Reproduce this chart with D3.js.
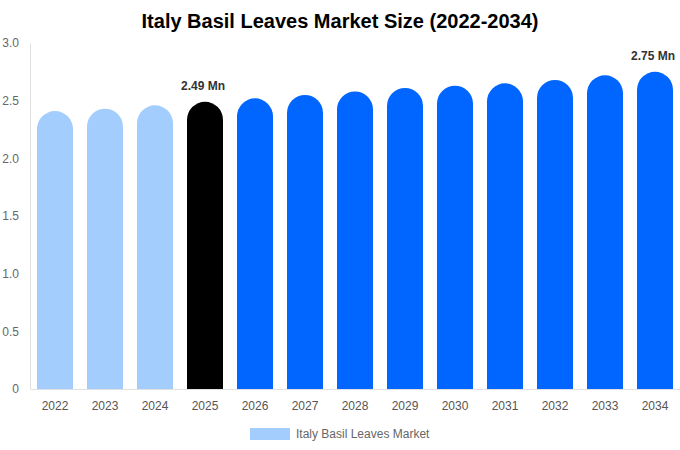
<!DOCTYPE html>
<html lang="en">
  <head>
    <meta charset="utf-8">
    <title>Italy Basil Leaves Market Size</title>
    <script src="https://cdnjs.cloudflare.com/ajax/libs/d3/7.8.5/d3.min.js"></script>
    <style>
      body { margin: 0; background: #fff; }
      svg { font-family: "Liberation Sans", Arial, sans-serif; }
    </style>
  </head>
  <body>
    <script>
      // Chart data
      const years = ["2022", "2023", "2024", "2025", "2026", "2027", "2028",
                     "2029", "2030", "2031", "2032", "2033", "2034"];
      const values = [2.41, 2.43, 2.46, 2.49, 2.52, 2.55, 2.58,
                      2.61, 2.63, 2.65, 2.68, 2.72, 2.75];
      const yTicks = [0, 0.5, 1.0, 1.5, 2.0, 2.5, 3.0];
      const labelled = { "2025": "2.49 Mn", "2034": "2.75 Mn" };
      const seriesName = "Italy Basil Leaves Market";

      const w = 680, h = 450;
      const padLeft = 30, padRight = 680, padTop = 43, padBottom = 389;

      const colorFor = y => +y < 2025 ? "#a3cdfd" : (+y === 2025 ? "#000000" : "#0066ff");

      const svg = d3.select("body").append("svg")
        .attr("width", w).attr("height", h);

      const x = d3.scaleBand().domain(years).range([padLeft, padRight]).paddingInner(0.28).paddingOuter(0.14);
      const y = d3.scaleLinear().domain([0, 3]).range([padBottom, padTop]);

      // title
      svg.append("text")
        .attr("x", w / 2).attr("y", 28)
        .attr("text-anchor", "middle")
        .style("font-size", "20px").style("font-weight", "bold").style("fill", "#000")
        .text("Italy Basil Leaves Market Size (2022-2034)");

      // y axis
      const yAxis = d3.axisLeft(y).tickValues(yTicks)
        .tickFormat(d => d === 0 ? "0" : d3.format(".1f")(d)).tickSize(0).tickPadding(11);
      const gy = svg.append("g").attr("transform", `translate(${padLeft},0)`).call(yAxis);
      gy.select(".domain").attr("stroke", "#e0e0e0");
      gy.selectAll("text").style("font-size", "12px").style("fill", "#666");

      // x axis
      const xAxis = d3.axisBottom(x).tickSize(0).tickPadding(12);
      const gx = svg.append("g").attr("transform", `translate(0,${padBottom})`).call(xAxis);
      gx.select(".domain").attr("stroke", "#e0e0e0");
      gx.selectAll("text").style("font-size", "12px").style("fill", "#555");

      // bars with rounded tops
      const bw = x.bandwidth(), r = bw / 2;
      svg.selectAll("path.bar")
        .data(years.map((yr, i) => ({ yr, v: values[i] })))
        .enter().append("path")
        .attr("class", "bar")
        .attr("fill", d => colorFor(d.yr))
        .attr("d", d => {
          const x0 = x(d.yr), yt = y(d.v), yb = y(0);
          return `M${x0},${yb} L${x0},${yt + r} A${r},${r} 0 0 1 ${x0 + bw},${yt + r} L${x0 + bw},${yb} Z`;
        });

      // value labels
      svg.selectAll("text.val")
        .data(years.filter(yr => labelled[yr]))
        .enter().append("text")
        .attr("class", "val")
        .attr("x", yr => x(yr) + bw / 2 - 2)
        .attr("y", yr => y(values[years.indexOf(yr)]) - 12)
        .attr("text-anchor", "middle")
        .style("font-size", "12px").style("font-weight", "bold").style("fill", "#333")
        .text(yr => labelled[yr]);

      // legend
      const lg = svg.append("g").attr("transform", "translate(250,428)");
      lg.append("rect").attr("width", 40).attr("height", 12).attr("fill", "#a3cdfd");
      lg.append("text").attr("x", 46).attr("y", 10)
        .style("font-size", "12px").style("fill", "#666")
        .text(seriesName);
    </script>
  </body>
</html>
